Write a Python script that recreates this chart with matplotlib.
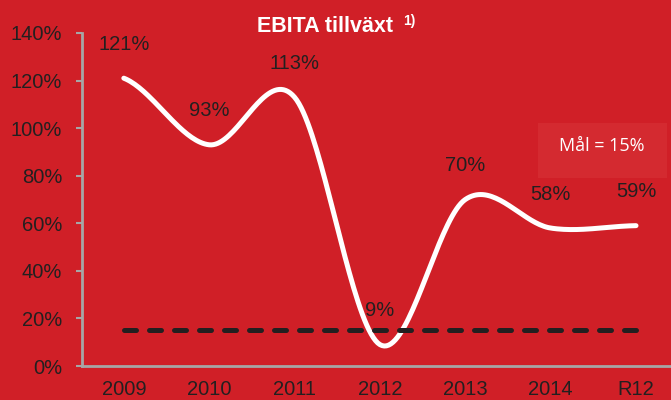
import numpy as np
import matplotlib.pyplot as plt

categories = ['2009', '2010', '2011', '2012', '2013', '2014', 'R12']
growth = [121, 93, 113, 9, 70, 58, 59]
target = 15
yticks = [0, 20, 40, 60, 80, 100, 120, 140]

RED = '#D01F27'
DARK = '#231F20'
GRAY = '#A6A6A6'


def smooth(xs, ys, n=40):
    # Excel style smoothed line (Catmull-Rom through the points)
    xs = np.asarray(xs, float)
    ys = np.asarray(ys, float)
    px = np.concatenate([[2 * xs[0] - xs[1]], xs, [2 * xs[-1] - xs[-2]]])
    py = np.concatenate([[ys[0]], ys, [ys[-1]]])
    out_x, out_y = [], []
    for i in range(1, len(px) - 2):
        t = np.linspace(0, 1, n)
        for p, out in ((px, out_x), (py, out_y)):
            p0, p1, p2, p3 = p[i - 1], p[i], p[i + 1], p[i + 2]
            out.extend(0.5 * ((2 * p1) + (-p0 + p2) * t
                              + (2 * p0 - 5 * p1 + 4 * p2 - p3) * t ** 2
                              + (-p0 + 3 * p1 - 3 * p2 + p3) * t ** 3))
    return np.array(out_x), np.array(out_y)


plt.rcParams['font.family'] = ['Liberation Sans', 'DejaVu Sans']

fig = plt.figure(figsize=(6.71, 4.0), dpi=100, facecolor=RED)
ax = fig.add_axes([0.1222, 0.085, 0.8778, 0.8325], facecolor=RED)

x = np.arange(len(categories))
sx, sy = smooth(x, growth)
ax.plot(sx, sy, color='white', lw=3.6, solid_capstyle='round', zorder=3)
ax.plot([x[0], x[-1]], [target, target], color=DARK, lw=3.6,
        dashes=(2.4, 2.6), dash_capstyle='round', zorder=4)

for xi, v in zip(x, growth):
    ax.annotate(f'{v}%', (xi, v), xytext=(0, 24.5), textcoords='offset points',
                ha='center', va='center', fontsize=14.5, color=DARK, zorder=5)

ax.set_xlim(-0.49, 6.41)
ax.set_ylim(0, 140)
ax.set_yticks(yticks)
ax.set_yticklabels([f'{t}%' for t in yticks])
ax.set_xticks(x)
ax.set_xticklabels(categories)
ax.tick_params(axis='y', length=4.3, width=1.5, color=GRAY, pad=10,
               labelsize=14.5, labelcolor=DARK)
ax.tick_params(axis='x', length=0, pad=10, labelsize=14.5, labelcolor=DARK)
for s in ['top', 'right']:
    ax.spines[s].set_visible(False)
for s in ['left', 'bottom']:
    ax.spines[s].set_color(GRAY)
    ax.spines[s].set_linewidth(2)

fig.text(0.485, 1 - 32 / 400, 'EBITA tillväxt', ha='center', va='baseline',
         fontsize=15.5, fontweight='bold', color='white')
fig.text(403 / 671, 1 - 25 / 400, '1)', ha='left', va='baseline',
         fontsize=10, fontweight='bold', color='white')

fig.patches.append(plt.Rectangle((538 / 671, 1 - 178 / 400), 129 / 671, 55 / 400,
                                 transform=fig.transFigure, facecolor='#D42A30',
                                 edgecolor='none', zorder=1))
fig.text(602 / 671, 1 - 146 / 400, 'Mål = 15%', ha='center', va='center',
         fontsize=13, color='white', family=['Open Sans', 'DejaVu Sans'])

fig.savefig('out.png', dpi=100, facecolor=RED)
